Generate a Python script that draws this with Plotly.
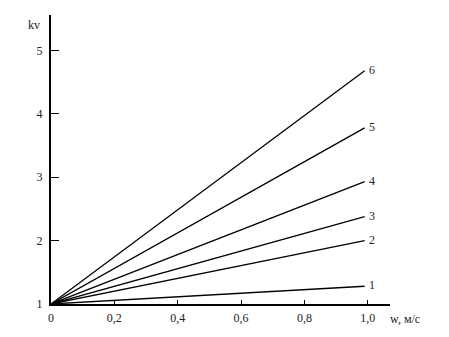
import plotly.graph_objects as go

w = [0.0, 0.99]
curves = {
    "1": [1.0, 1.28],
    "2": [1.0, 2.0],
    "3": [1.0, 2.38],
    "4": [1.0, 2.93],
    "5": [1.0, 3.78],
    "6": [1.0, 4.68],
}
x_ticks = [0, 0.2, 0.4, 0.6, 0.8, 1.0]
x_labels = ["0", "0,2", "0,4", "0,6", "0,8", "1,0"]
y_ticks = [1, 2, 3, 4, 5]
y_labels = ["1", "2", "3", "4", "5"]

font = dict(family="Liberation Serif, Times New Roman, serif", size=12, color="#222")

fig = go.Figure()
for name, ys in curves.items():
    fig.add_trace(go.Scatter(x=w, y=ys, mode="lines",
                             line=dict(color="black", width=1.3),
                             showlegend=False, hoverinfo="skip"))
    fig.add_annotation(x=w[-1], y=ys[-1], text=name, showarrow=False,
                       xanchor="left", yanchor="middle", xshift=2, yshift=1,
                       font=font)

fig.add_annotation(x=0, y=1, xref="paper", yref="paper", text="kv",
                   showarrow=False, xanchor="right", yanchor="middle",
                   xshift=-9, yshift=-10, font=font)
fig.add_annotation(x=1, y=0, xref="paper", yref="paper", text="w, м/с",
                   showarrow=False, xanchor="left", yanchor="middle",
                   xshift=-2, yshift=-15, font=font)

fig.update_xaxes(range=[0, 1.07], tickvals=x_ticks, ticktext=x_labels,
                 showline=True, linecolor="black", linewidth=2,
                 ticks="inside", ticklen=4, tickcolor="black",
                 showgrid=False, zeroline=False, tickfont=font,
                 ticklabelstandoff=2)
fig.update_yaxes(range=[1, 5.56], tickvals=y_ticks, ticktext=y_labels,
                 showline=True, linecolor="black", linewidth=2,
                 ticks="inside", ticklen=8, tickcolor="black",
                 showgrid=False, zeroline=False, tickfont=font,
                 ticklabelstandoff=4)

fig.update_layout(width=449, height=337, plot_bgcolor="white",
                  paper_bgcolor="white",
                  margin=dict(l=51, r=59, t=15, b=30))
fig.write_html("out.html")
